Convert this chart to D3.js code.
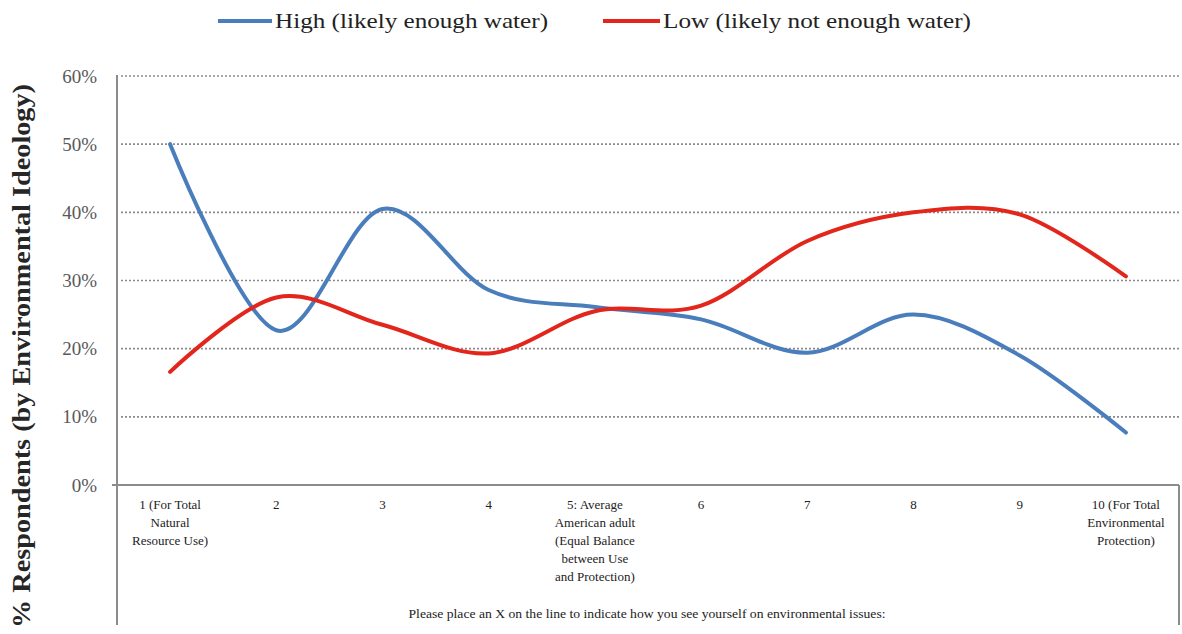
<!DOCTYPE html>
<html>
<head>
<meta charset="utf-8">
<script src="https://cdn.jsdelivr.net/npm/d3@7"></script>
<style>
  html, body { margin: 0; padding: 0; background: #fff; }
  svg { display: block; }
</style>
</head>
<body>
<svg id="chart" width="1182" height="634"></svg>
<script>
// ---- data ----
const categories = ["1","2","3","4","5","6","7","8","9","10"];
const categoryLabels = [
  ["1 (For Total", "Natural", "Resource Use)"],
  ["2"], ["3"], ["4"],
  ["5: Average", "American adult", "(Equal Balance", "between Use", "and Protection)"],
  ["6"], ["7"], ["8"], ["9"],
  ["10 (For Total", "Environmental", "Protection)"]
];
const highValues = [50, 22.7, 40.5, 28.6, 26.1, 24.3, 19.4, 25.0, 19.0, 7.7];
const lowValues  = [16.6, 27.5, 23.5, 19.3, 25.5, 26.3, 35.8, 40.0, 39.7, 30.6];
const seriesNames = ["High (likely enough water)", "Low (likely not enough water)"];
const yTicks = [0, 10, 20, 30, 40, 50, 60];
const yTitle = "% Respondents (by Environmental Ideology)";
const xTitle = "Please place an X on the line to indicate how you see yourself on environmental issues:";

(function () {
// ---- layout ----
const svg = d3.select("#chart");
const L = 117, R = 1179, T = 76, B = 485, boxBottom = 625;
const serif = "'Liberation Serif', 'DejaVu Serif', serif";
const blue = "#4a7dbb", red = "#e2261b", axisGray = "#8c8c8c";

const x = d3.scaleBand().domain(categories).range([L, R]).padding(0);
const y = d3.scaleLinear().domain([0, 60]).range([B, T]);

// gridlines
const grid = svg.append("g");
grid.selectAll("line").data(yTicks.filter(d => d > 0)).join("line")
  .attr("x1", L + 4).attr("x2", R)
  .attr("y1", d => y(d)).attr("y2", d => y(d))
  .attr("stroke", "#8a8a8a").attr("stroke-width", 1.6)
  .attr("stroke-dasharray", "2,2");

// y axis labels
const yAxis = d3.axisLeft(y).tickValues(yTicks).tickFormat(d => d + "%").tickSize(0).tickPadding(20);
const ya = svg.append("g").attr("transform", `translate(${L},0)`).call(yAxis);
ya.select(".domain").remove();
ya.selectAll("text").attr("font-family", serif).attr("font-size", 19).attr("fill", "#595959");

// axis lines / category box
svg.append("line").attr("x1", L).attr("x2", L).attr("y1", T - 1).attr("y2", boxBottom)
  .attr("stroke", axisGray).attr("stroke-width", 2);
svg.append("line").attr("x1", L - 5).attr("x2", R).attr("y1", B).attr("y2", B)
  .attr("stroke", axisGray).attr("stroke-width", 2);
svg.append("line").attr("x1", R).attr("x2", R).attr("y1", B).attr("y2", boxBottom)
  .attr("stroke", axisGray).attr("stroke-width", 2);

// x category labels
const xl = svg.append("g");
categories.forEach((c, i) => {
  const cx = x(c) + x.bandwidth() / 2;
  const t = xl.append("text")
    .attr("x", cx).attr("y", 509)
    .attr("text-anchor", "middle")
    .attr("font-family", serif).attr("font-size", 13).attr("fill", "#222");
  categoryLabels[i].forEach((line, j) => {
    t.append("tspan").attr("x", cx).attr("dy", j === 0 ? 0 : 18).text(line);
  });
});

// x title
svg.append("text").attr("x", 647).attr("y", 618)
  .attr("text-anchor", "middle").attr("font-family", serif).attr("font-size", 13)
  .attr("textLength", 477).attr("lengthAdjust", "spacingAndGlyphs")
  .attr("fill", "#222").text(xTitle);

// y title
svg.append("text")
  .attr("transform", "translate(30, 356) rotate(-90)")
  .attr("text-anchor", "middle")
  .attr("font-family", serif).attr("font-weight", "bold").attr("font-size", 26)
  .attr("textLength", 544).attr("lengthAdjust", "spacingAndGlyphs")
  .attr("fill", "#262626").text(yTitle);

// lines
const line = d3.line()
  .x((d, i) => x(categories[i]) + x.bandwidth() / 2)
  .y(d => y(d))
  .curve(d3.curveCardinal.tension(0));

svg.append("path").datum(highValues).attr("d", line)
  .attr("fill", "none").attr("stroke", blue).attr("stroke-width", 4).attr("stroke-linecap", "round");
svg.append("path").datum(lowValues).attr("d", line)
  .attr("fill", "none").attr("stroke", red).attr("stroke-width", 4).attr("stroke-linecap", "round");

// legend
const legend = [
  { name: seriesNames[0], color: blue, x1: 218, x2: 272, w: 273 },
  { name: seriesNames[1], color: red, x1: 603, x2: 660, w: 308 }
];
legend.forEach(l => {
  svg.append("line").attr("x1", l.x1).attr("x2", l.x2).attr("y1", 21).attr("y2", 21)
    .attr("stroke", l.color).attr("stroke-width", 4);
  svg.append("text").attr("x", l.x2 + 3).attr("y", 28)
    .attr("font-family", serif).attr("font-size", 22)
    .attr("textLength", l.w).attr("lengthAdjust", "spacingAndGlyphs")
    .attr("fill", "#222").text(l.name);
});
})();
</script>
</body>
</html>
